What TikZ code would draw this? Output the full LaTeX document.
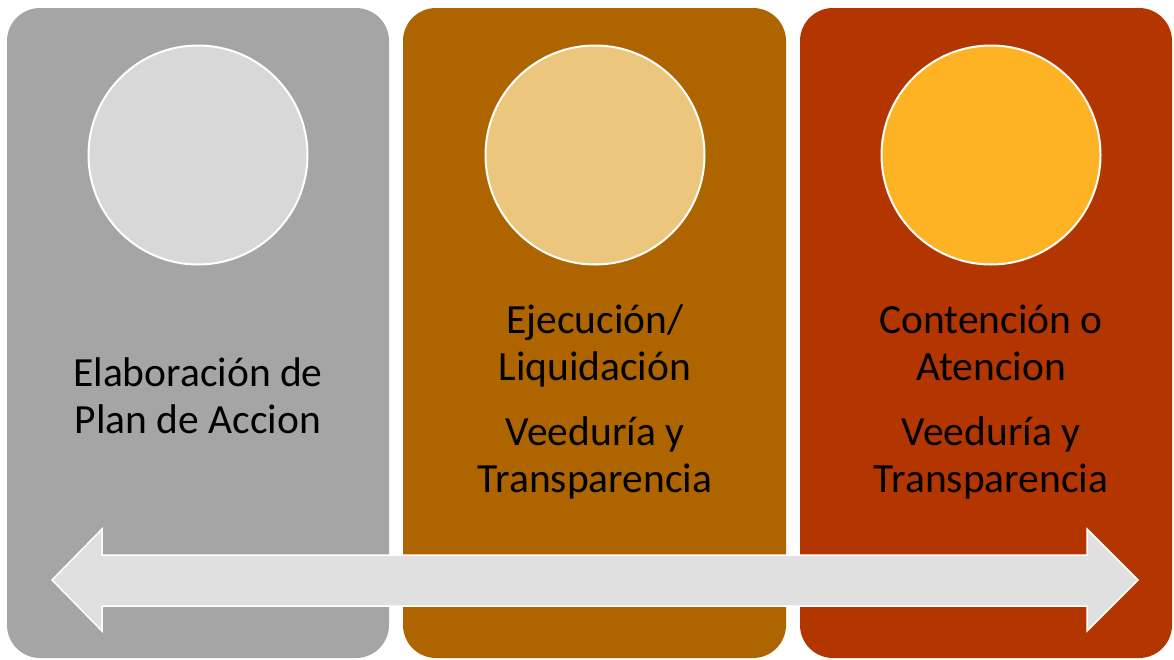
\documentclass[tikz,border=0pt]{standalone}
\usepackage{fontspec}
\setmainfont{Carlito}
\usetikzlibrary{positioning}
\definecolor{panelgray}{HTML}{A5A5A5}
\definecolor{panelbrown}{HTML}{AE6500}
\definecolor{panelred}{HTML}{B33500}
\definecolor{discgray}{HTML}{D8D8D8}
\definecolor{discsand}{HTML}{EBC67C}
\definecolor{discgold}{HTML}{FDB323}
\definecolor{bargray}{HTML}{E0E0E0}

\begin{document}
\begin{tikzpicture}[x=1pt, y=-1pt,
    panel/.style={rounded corners=33pt},
    disc/.style={draw=white, line width=2pt},
    stage/.style={font=\fontsize{41.5}{46.5}\selectfont, align=center, text=black, inner sep=0pt}]
    \useasboundingbox (0,0) rectangle (1174,659);

    % Panels
    \fill[panel, panelgray]  (7,8) rectangle (389,658);
    \fill[panel, panelbrown] (403,8) rectangle (786,658);
    \fill[panel, panelred]   (800,8) rectangle (1172,658);

    % Discs
    \draw[disc, fill=discgray] (198,155) circle (109.5pt);
    \draw[disc, fill=discsand] (595,155) circle (109.5pt);
    \draw[disc, fill=discgold] (991,155) circle (109.5pt);

    % Texts (base = last line)
    \node[stage, anchor=base] (plan) at (198,433) {Elaboración de\\Plan de Accion};
    \node[stage, anchor=base] (ejec) at (595,380) {Ejecución/\\Liquidación};
    \node[stage, anchor=base] (veed) at (595,492) {Veeduría y\\Transparencia};
    \node[stage, anchor=base] (cont) at (991,380) {Contención o\\Atencion};
    \node[stage, anchor=base] (veedb) at (991,492) {Veeduría y\\Transparencia};

    % Double arrow
    \draw[fill=bargray, draw=white, line width=1.5pt, line join=miter]
        (52,580) -- (102,529) -- (102,555) -- (1087,555) -- (1087,529)
        -- (1138,580) -- (1087,631) -- (1087,606) -- (102,606) -- (102,631) -- cycle;
\end{tikzpicture}
\end{document}
